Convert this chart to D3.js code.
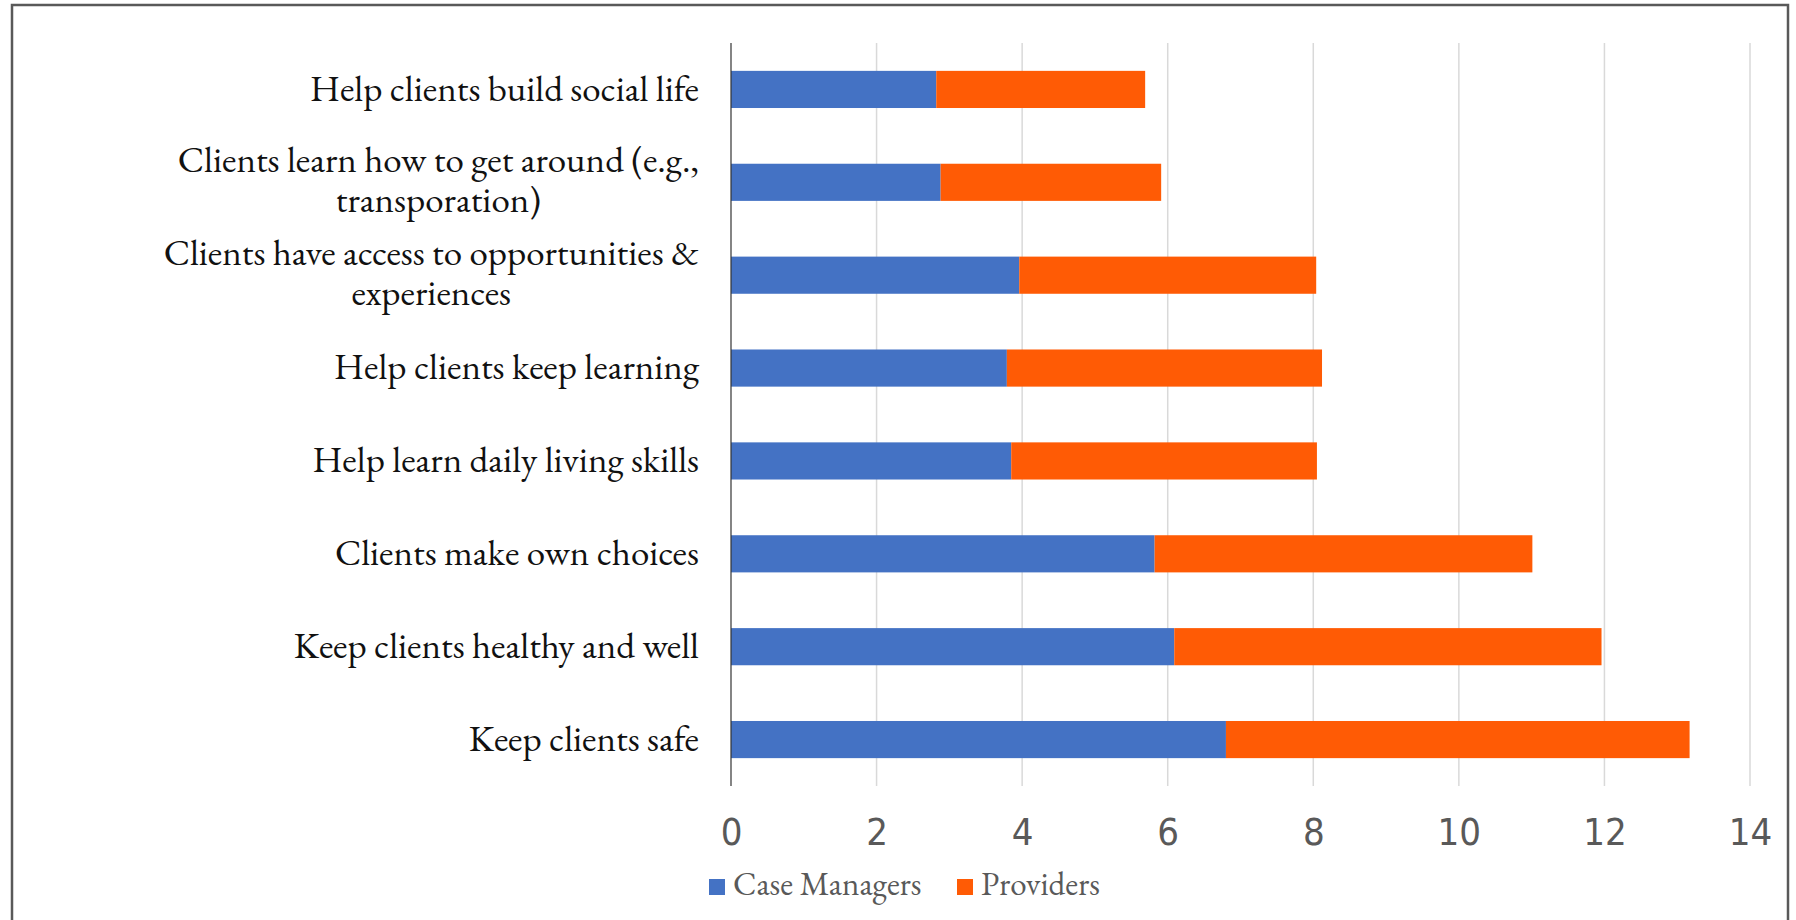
<!DOCTYPE html>
<html>
<head>
<meta charset="utf-8">
<script src="https://cdn.jsdelivr.net/npm/d3@7"></script>
<style>
  body { margin: 0; background: #fff; }
  svg { display: block; }
</style>
</head>
<body>
<div id="chart"></div>
<script>
// categories, top to bottom
var categories = [
  ["Help clients build social life"],
  ["Clients learn how to get around (e.g.,", "transporation)"],
  ["Clients have access to opportunities &", "experiences"],
  ["Help clients keep learning"],
  ["Help learn daily living skills"],
  ["Clients make own choices"],
  ["Keep clients healthy and well"],
  ["Keep clients safe"]
];
var caseManagers = [2.82, 2.88, 3.96, 3.79, 3.85, 5.82, 6.09, 6.80];
var providers    = [2.87, 3.03, 4.08, 4.33, 4.20, 5.19, 5.87, 6.37];
var seriesNames = ["Case Managers", "Providers"];
var xTicks = [0, 2, 4, 6, 8, 10, 12, 14];

var width = 1796, height = 920;
var margin = {top: 43, right: 46, bottom: 134, left: 731};
var colors = ["#4472c4", "#ff5b05"];
var serif = "'EB Garamond', 'Liberation Serif', 'DejaVu Serif', serif";

var svg = d3.select("#chart").append("svg")
    .attr("width", width)
    .attr("height", height);

// outer frame
svg.append("rect")
    .attr("x", 12).attr("y", 5)
    .attr("width", 1776).attr("height", 940)
    .attr("fill", "none")
    .attr("stroke", "#595959")
    .attr("stroke-width", 2.5);

var x = d3.scaleLinear().domain([0, 14]).range([margin.left, width - margin.right]);
var y = d3.scaleBand()
    .domain(d3.range(categories.length))
    .range([margin.top, height - margin.bottom])
    .paddingInner(0.6).paddingOuter(0.3);

// gridlines
svg.append("g")
    .selectAll("line")
    .data(xTicks.slice(1))
    .join("line")
    .attr("x1", d => x(d)).attr("x2", d => x(d))
    .attr("y1", margin.top).attr("y2", height - margin.bottom)
    .attr("stroke", "#d9d9d9")
    .attr("stroke-width", 1.5);

// stacked bars
var stack = d3.stack().keys([0, 1])(categories.map(function (c, i) {
  return {0: caseManagers[i], 1: providers[i]};
}));

svg.append("g")
    .selectAll("g")
    .data(stack)
    .join("g")
    .attr("fill", (d, i) => colors[i])
    .selectAll("rect")
    .data(d => d)
    .join("rect")
    .attr("x", d => x(d[0]))
    .attr("width", d => x(d[1]) - x(d[0]))
    .attr("y", (d, i) => y(i))
    .attr("height", y.bandwidth());

// y axis line
svg.append("line")
    .attr("x1", x(0)).attr("x2", x(0))
    .attr("y1", margin.top).attr("y2", height - margin.bottom)
    .attr("stroke", "#333")
    .attr("stroke-width", 1.2);

// x tick labels
var xAxis = svg.append("g")
    .attr("transform", "translate(0," + (height - margin.bottom) + ")")
    .call(d3.axisBottom(x).tickValues(xTicks).tickSize(0).tickPadding(32));
xAxis.select(".domain").remove();
xAxis.selectAll("text")
    .attr("fill", "#595959")
    .style("font-family", "'Liberation Sans Narrow', 'DejaVu Sans Condensed', sans-serif")
    .style("font-size", "38px");

// category labels, wrapped ones centred under their first line
var labelRight = 699;
var labels = svg.append("g")
    .style("font-family", serif)
    .style("font-size", "37px")
    .attr("fill", "#111");

categories.forEach(function (lines, i) {
  var cy = y(i) + y.bandwidth() / 2;
  if (lines.length === 1) {
    labels.append("text")
        .attr("x", labelRight).attr("y", cy)
        .attr("dy", "0.3em")
        .attr("text-anchor", "end")
        .text(lines[0]);
  } else {
    var first = labels.append("text")
        .attr("x", labelRight).attr("y", cy - 21)
        .attr("dy", "0.3em")
        .attr("text-anchor", "end")
        .text(lines[0]);
    var w = first.node().getComputedTextLength();
    labels.append("text")
        .attr("x", labelRight - w / 2).attr("y", cy + 19)
        .attr("dy", "0.3em")
        .attr("text-anchor", "middle")
        .text(lines[1]);
  }
});

// legend
var legend = svg.append("g")
    .style("font-family", serif)
    .style("font-size", "33px")
    .attr("fill", "#595959");
var lx = [709, 957];
seriesNames.forEach(function (name, i) {
  legend.append("rect")
      .attr("x", lx[i]).attr("y", 879)
      .attr("width", 16).attr("height", 16)
      .attr("fill", colors[i]);
  legend.append("text")
      .attr("x", lx[i] + 24).attr("y", 895)
      .text(name);
});
</script>
</body>
</html>
